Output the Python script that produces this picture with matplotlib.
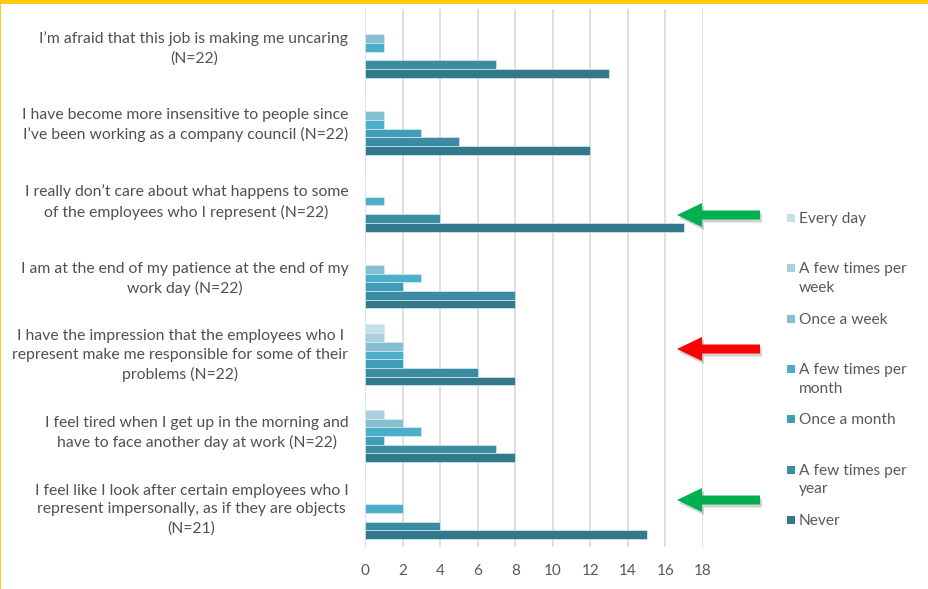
import numpy as np
import matplotlib.pyplot as plt
from matplotlib.patches import Rectangle, FancyArrow

plt.rcParams['font.family'] = ['Lato', 'DejaVu Sans']

questions = [
    'I\u2019m afraid that this job is making me uncaring\n(N=22)',
    'I have become more insensitive to people since\nI\u2019ve been working as a company council (N=22)',
    'I really don\u2019t care about what happens to some\nof the employees who I represent (N=22)',
    'I am at the end of my patience at the end of my\nwork day (N=22)',
    'I have the impression that the employees who I\nrepresent make me responsible for some of their\nproblems (N=22)',
    'I feel tired when I get up in the morning and\nhave to face another day at work (N=22)',
    'I feel like I look after certain employees who I\nrepresent impersonally, as if they are objects\n(N=21)',
]
answers = ['Every day', 'A few times per\nweek', 'Once a week', 'A few times per\nmonth',
           'Once a month', 'A few times per\nyear', 'Never']
# rows = questions, columns = answers
counts = np.array([
    [0, 0, 1, 1, 0, 7, 13],
    [0, 0, 1, 1, 3, 5, 12],
    [0, 0, 0, 1, 0, 4, 17],
    [0, 0, 1, 3, 2, 8, 8],
    [1, 1, 2, 2, 2, 6, 8],
    [0, 1, 2, 3, 1, 7, 8],
    [0, 0, 0, 2, 0, 4, 15],
])
colors = ['#c6e0e9', '#aad0dd', '#86bfd1', '#4bafc8', '#3f9db8', '#3b8ba2', '#34798b']
arrow_y = [215, 349, 500]   # pixel rows of the arrows
arrow_colors = ['#00b050', '#ff0000', '#00b050']

W, H = 929, 589
fig = plt.figure(figsize=(W/100, H/100), dpi=100)
ax = fig.add_axes([365/W, 1-547/H, (703-365)/W, (547-9)/H])

h = 0.113
ypos = np.arange(len(questions))
for j, name in enumerate(answers):
    ax.barh(ypos + (j-3)*h, counts[:, j], height=h, color=colors[j],
            edgecolor='#d8ecf2', linewidth=0.5, zorder=3)

ax.set_xlim(0, 18)
ax.set_ylim(len(questions)-0.5, -0.5)
ax.set_xticks(np.arange(0, 19, 2))
ax.set_yticks(ypos - 0.04)
ax.set_yticklabels(questions, multialignment='center', linespacing=1.42)
ax.tick_params(axis='y', length=0, pad=12, labelsize=11.3, labelcolor='#505050')
ax.tick_params(axis='x', length=0, pad=12, labelsize=11, labelcolor='#595959')
ax.grid(axis='x', color='#d9d9d9', linewidth=1.2, zorder=0)
for s in ax.spines.values():
    s.set_visible(False)

# legend
slot0 = 218
for j, name in enumerate(answers):
    y = 1 - (slot0 + j*50.3)/H
    fig.patches.append(Rectangle((787/W, y - 4/H), 8/W, 8/H, transform=fig.transFigure,
                                 facecolor=colors[j], edgecolor='none'))
    fig.text(799/W, y + 6/H, name, va='top', ha='left', fontsize=11.2,
             color='#595959', linespacing=1.45)

# arrows
for py, c in zip(arrow_y, arrow_colors):
    yc = 1 - py/H
    for dx, dy, col, a in [(2, -3, '#808080', 0.35), (0, 0, c, 1.0)]:
        fig.patches.append(FancyArrow((760+dx)/W, yc + dy/H, -83/W, 0, width=9/H,
                                      head_width=24/H, head_length=25/W,
                                      length_includes_head=True, transform=fig.transFigure,
                                      facecolor=col, edgecolor='none', alpha=a))

# yellow frame
fig.patches.append(Rectangle((0, 1-4/H), 1, 4/H, transform=fig.transFigure,
                             facecolor='#ffcc11', edgecolor='none'))
fig.patches.append(Rectangle((0, 0), 1.5/W, 1, transform=fig.transFigure,
                             facecolor='#ffcc11', edgecolor='none'))

fig.savefig('out.png', dpi=100)
